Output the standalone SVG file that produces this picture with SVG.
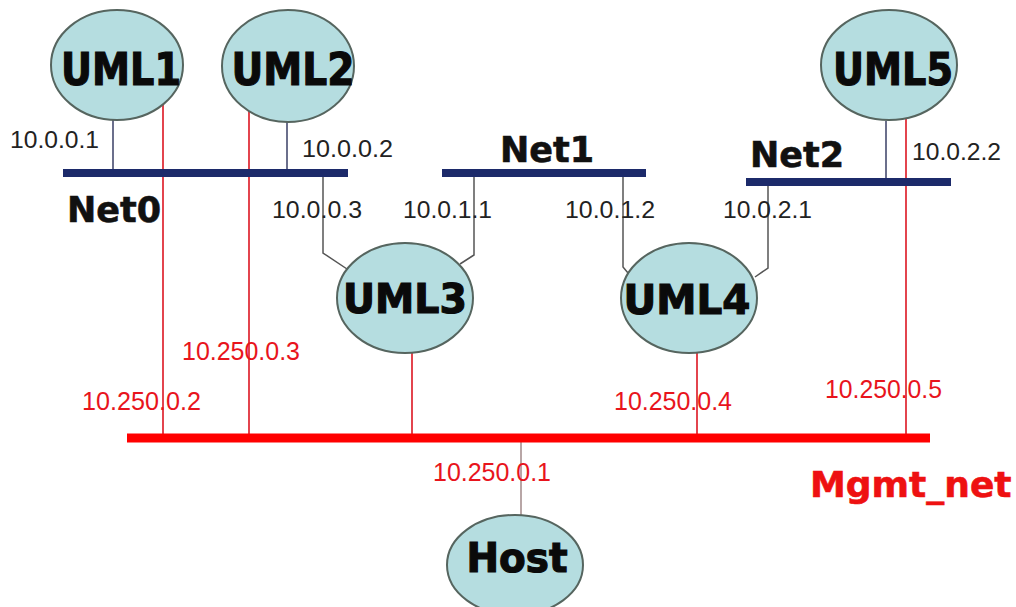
<svg xmlns="http://www.w3.org/2000/svg" width="1016" height="607" viewBox="0 0 1016 607">
<style>
.node{fill:#b5dde0;stroke:#56655f;stroke-width:2}
.nl{font-family:"DejaVu Sans",Verdana,sans-serif;font-weight:bold;font-size:44px;fill:#0a0a0a;stroke:#0a0a0a;stroke-width:1.2;text-anchor:middle}
.net{font-family:"DejaVu Sans",Verdana,sans-serif;font-weight:bold;font-size:35px;fill:#111;stroke:#111;stroke-width:0.6}
.ip{font-family:"Liberation Sans",Arial,sans-serif;font-size:24px;fill:#222}
.rip{font-family:"Liberation Sans",Arial,sans-serif;font-size:25px;fill:#e8141c}
.bar{stroke:#1c2a6a;stroke-width:8}
.dl{stroke:#3a3f66;stroke-width:1.5;fill:none}
.gl{stroke:#555;stroke-width:1.5;fill:none}
.rl{stroke:#e0303a;stroke-width:1.8;fill:none}
</style>
<rect width="1016" height="607" fill="#fff"/>
<g id="connectors">
  <line class="rl" x1="163" y1="104" x2="163" y2="438"/>
  <line class="rl" x1="249" y1="109" x2="249" y2="438"/>
  <line class="rl" x1="412" y1="353" x2="412" y2="438"/>
  <line class="rl" x1="697" y1="353" x2="697" y2="438"/>
  <line class="rl" x1="906" y1="118" x2="906" y2="438"/>
  <line stroke="#a08888" stroke-width="1.5" x1="521" y1="438" x2="521" y2="517"/>
  <line class="dl" x1="113" y1="119" x2="113" y2="173"/>
  <line class="dl" x1="287" y1="121" x2="287" y2="173"/>
  <line class="dl" x1="886" y1="121" x2="886" y2="182"/>
  <polyline class="gl" points="323,173 323,253 347,269"/>
  <polyline class="gl" points="474,173 474,255 460,264"/>
  <polyline class="gl" points="623,173 623,267 628,273"/>
  <polyline class="gl" points="768,182 768,268 755,277"/>
</g>
<g id="Net0"><line class="bar" x1="63" y1="173" x2="348" y2="173"/><text class="net" x="67" y="222">Net0</text></g>
<g id="Net1"><line class="bar" x1="442" y1="173" x2="646" y2="173"/><text class="net" x="500" y="162">Net1</text></g>
<g id="Net2"><line class="bar" x1="746" y1="182" x2="951" y2="182"/><text class="net" x="750" y="167">Net2</text></g>
<g id="Mgmt_net"><line stroke="#ff0000" stroke-width="9" x1="127" y1="438" x2="930" y2="438"/><text class="net" x="810" y="497" style="fill:#ee1111;stroke:#ee1111;font-size:36px">Mgmt_net</text></g>
<g id="UML1"><ellipse class="node" cx="117" cy="65" rx="66" ry="55"/><text class="nl" x="121" y="85" textLength="120" lengthAdjust="spacingAndGlyphs">UML1</text></g>
<g id="UML2"><ellipse class="node" cx="288" cy="66" rx="66" ry="56"/><text class="nl" x="293" y="85" textLength="123" lengthAdjust="spacingAndGlyphs">UML2</text></g>
<g id="UML5"><ellipse class="node" cx="889" cy="65" rx="68" ry="55"/><text class="nl" x="893" y="85" textLength="120" lengthAdjust="spacingAndGlyphs">UML5</text></g>
<g id="UML3"><ellipse class="node" cx="405" cy="298" rx="68" ry="55"/><text class="nl" x="405" y="313" textLength="124" lengthAdjust="spacingAndGlyphs" style="font-size:41px">UML3</text></g>
<g id="UML4"><ellipse class="node" cx="689" cy="298" rx="68" ry="55"/><text class="nl" x="687" y="314" textLength="127" lengthAdjust="spacingAndGlyphs" style="font-size:41px">UML4</text></g>
<g id="Host"><ellipse class="node" cx="515" cy="565" rx="68" ry="50"/><text class="nl" x="517" y="572" textLength="101" lengthAdjust="spacingAndGlyphs" style="font-size:40px">Host</text></g>
<g id="labels">
  <text class="ip" x="10" y="148" textLength="89" lengthAdjust="spacingAndGlyphs">10.0.0.1</text>
  <text class="ip" x="302" y="157" textLength="91" lengthAdjust="spacingAndGlyphs">10.0.0.2</text>
  <text class="ip" x="272" y="218" textLength="90" lengthAdjust="spacingAndGlyphs">10.0.0.3</text>
  <text class="ip" x="403" y="218" textLength="89" lengthAdjust="spacingAndGlyphs">10.0.1.1</text>
  <text class="ip" x="565" y="218" textLength="90" lengthAdjust="spacingAndGlyphs">10.0.1.2</text>
  <text class="ip" x="723" y="218" textLength="89" lengthAdjust="spacingAndGlyphs">10.0.2.1</text>
  <text class="ip" x="912" y="160" textLength="89" lengthAdjust="spacingAndGlyphs">10.0.2.2</text>
  <text class="rip" x="82" y="410" textLength="119" lengthAdjust="spacingAndGlyphs">10.250.0.2</text>
  <text class="rip" x="182" y="360" textLength="118" lengthAdjust="spacingAndGlyphs">10.250.0.3</text>
  <text class="rip" x="614" y="410" textLength="118" lengthAdjust="spacingAndGlyphs">10.250.0.4</text>
  <text class="rip" x="825" y="398" textLength="117" lengthAdjust="spacingAndGlyphs">10.250.0.5</text>
  <text class="rip" x="433" y="481" textLength="118" lengthAdjust="spacingAndGlyphs">10.250.0.1</text>
</g>
</svg>
